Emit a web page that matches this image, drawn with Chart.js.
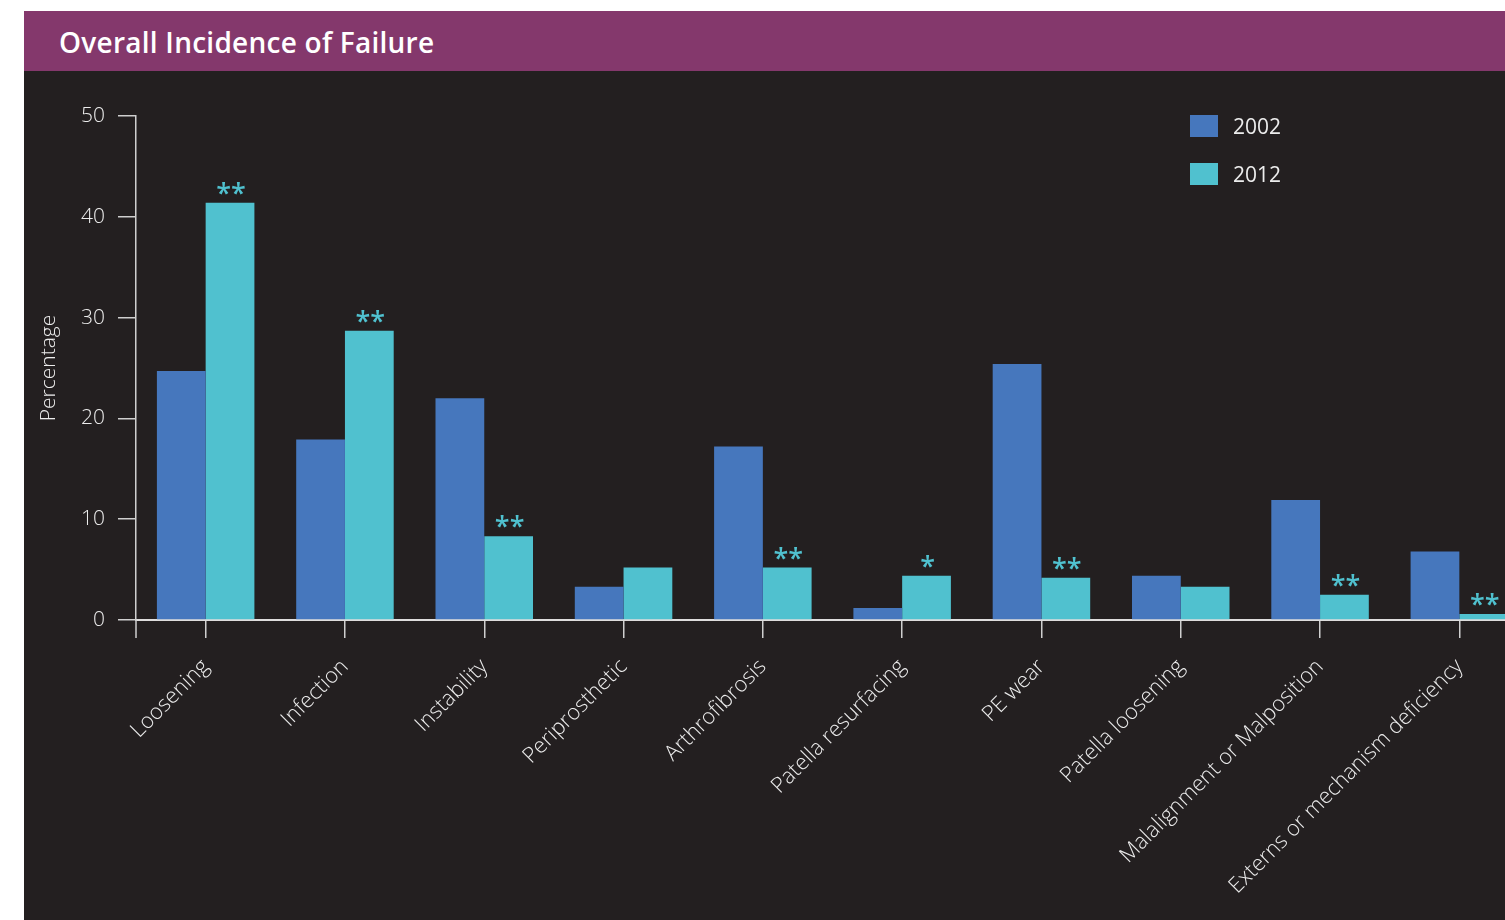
<!DOCTYPE html>
<html><head><meta charset="utf-8">
<script src="https://cdn.jsdelivr.net/npm/chart.js@4.4.1/dist/chart.umd.min.js"></script>
<style>
html,body{margin:0;padding:0;width:1505px;height:920px;overflow:hidden;background:#fff;}
#panel{position:absolute;left:24px;top:11px;width:1520px;height:909px;background:#231F20;}
#header{position:absolute;left:24px;top:11px;width:1520px;height:60px;background:#84386C;}
#title{position:absolute;left:59px;top:11px;height:60px;color:#fff;font:600 28px 'Open Sans',sans-serif;line-height:62px;letter-spacing:0.25px;}
#chart{position:absolute;left:0;top:0;}
#legend{position:absolute;left:1190px;top:115px;}
.item{display:flex;align-items:center;height:22px;margin-bottom:26px;color:#ececec;font:400 21px 'Open Sans',sans-serif;line-height:22px;}
.sw{width:28px;height:22px;margin-right:15px;}
</style></head>
<body>
<div id="panel"></div><div id="header"></div><div id="title">Overall Incidence of Failure</div>
<canvas id="chart" width="1540" height="920"></canvas>
<div id="legend"></div>
<script>
const categories = ['Loosening','Infection','Instability','Periprosthetic','Arthrofibrosis','Patella resurfacing','PE wear','Patella loosening','Malalignment or Malposition','Externs or mechanism deficiency'];
const seriesLabels = ['2002','2012'];
const values2002 = [24.7, 17.9, 22.0, 3.3, 17.2, 1.2, 25.4, 4.4, 11.9, 6.8];
const values2012 = [41.4, 28.7, 8.3, 5.2, 5.2, 4.4, 4.2, 3.3, 2.5, 0.6];
const significance2012 = ['**','**','**','','**','*','**','','**','**'];
const yTickValues = [0, 10, 20, 30, 40, 50];
const seriesColors = ['#4677BD', '#50C1CF'];

const legendEl = document.getElementById('legend');
seriesLabels.forEach((l, i) => {
  const d = document.createElement('div'); d.className = 'item';
  const s = document.createElement('div'); s.className = 'sw'; s.style.background = seriesColors[i];
  const t = document.createElement('span'); t.textContent = l;
  d.appendChild(s); d.appendChild(t); legendEl.appendChild(d);
});

const extraPlugin = {
  id: 'extras',
  afterDatasetsDraw(chart) {
    const ctx = chart.ctx;
    const meta = chart.getDatasetMeta(1);
    ctx.save();
    ctx.fillStyle = seriesColors[1];
    ctx.font = '600 27px "Open Sans"';
    ctx.textAlign = 'center';
    ctx.textBaseline = 'alphabetic';
    meta.data.forEach((bar, i) => {
      if (significance2012[i]) ctx.fillText(significance2012[i], bar.x + 1, bar.y);
    });
    ctx.restore();
  },
  afterDraw(chart) {
    const {ctx, chartArea} = chart;
    ctx.save();
    ctx.strokeStyle = '#cfcfcf'; ctx.lineWidth = 1.5;
    ctx.beginPath();
    ctx.moveTo(chartArea.left, chartArea.bottom);
    ctx.lineTo(chartArea.left, chartArea.bottom + 18);
    ctx.stroke();
    ctx.restore();
  }
};

function draw() {
  new Chart(document.getElementById('chart'), {
    type: 'bar',
    data: {
      labels: categories,
      datasets: [
        {label: seriesLabels[0], data: values2002, backgroundColor: seriesColors[0], categoryPercentage: 0.7, barPercentage: 1.0},
        {label: seriesLabels[1], data: values2012, backgroundColor: seriesColors[1], categoryPercentage: 0.7, barPercentage: 1.0}
      ]
    },
    options: {
      responsive: false, animation: false,
      layout: {padding: {left: 0, top: 116, right: 11, bottom: 0}},
      plugins: {legend: {display: false}, tooltip: {enabled: false}},
      scales: {
        x: {
          offset: true, z: 1,
          grid: {offset: false, drawOnChartArea: false, tickLength: 18, color: '#cfcfcf', lineWidth: 1.5},
          border: {color: 'rgba(255,255,255,0.85)', width: 2},
          ticks: {minRotation: 45, maxRotation: 45, autoSkip: false, padding: 16, color: '#ececec', font: {family: 'Open Sans', size: 21.7, weight: '300'}},
          afterFit(s) { s.height = 300; }
        },
        y: {
          min: 0, max: 50,
          grid: {drawOnChartArea: false, tickLength: 18, color: '#cfcfcf', lineWidth: 1.5},
          border: {color: '#cfcfcf', width: 1.5},
          ticks: {stepSize: 10, padding: 13, color: '#ececec', font: {family: 'Open Sans', size: 21, weight: '300'}},
          afterBuildTicks(s) { s.ticks = yTickValues.map(v => ({value: v})); },
          title: {display: true, text: 'Percentage', color: '#ececec', font: {family: 'Open Sans', size: 21, weight: '300'}, padding: {top: 36, bottom: 0}},
          afterFit(s) { s.width = 136; }
        }
      }
    },
    plugins: [extraPlugin]
  });
}
Promise.all([
  document.fonts.load('300 21px "Open Sans"'),
  document.fonts.load('21px "Open Sans"'),
  document.fonts.load('600 27px "Open Sans"')
]).then(draw, draw);
</script>
</body></html>
